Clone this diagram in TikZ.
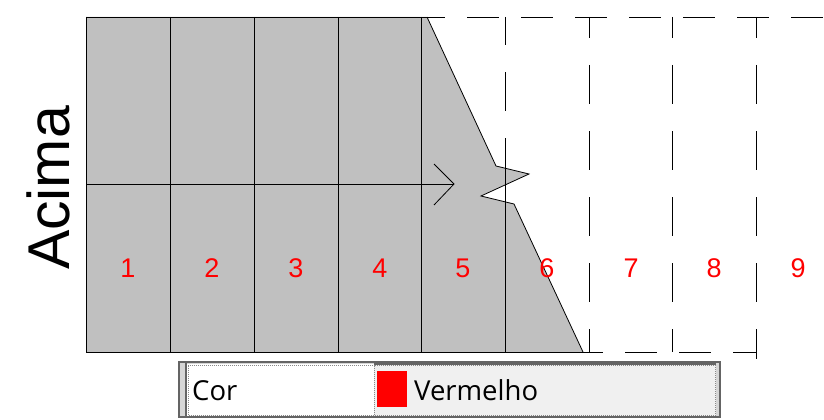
\documentclass[tikz,border=0pt]{standalone}
\usepackage{fontspec}
\setmainfont{Liberation Sans}
\newfontfamily\uifont{Open Sans}
\definecolor{cellgray}{HTML}{C0C0C0}
\definecolor{frame}{HTML}{646464}
\definecolor{strip}{HTML}{D6D6D6}
\definecolor{dotgray}{HTML}{8A8A8A}
\definecolor{btngray}{HTML}{F0F0F0}
\begin{document}
\begin{tikzpicture}[x=1pt,y=-1pt,
  grid/.style={draw=black,line width=0.9pt},
  dashv/.style={draw=black,line width=0.9pt,dash pattern=on 39pt off 27pt},
  dashh/.style={draw=black,line width=0.9pt,dash pattern=on 32pt off 22pt},
  num/.style={text=red,font=\fontsize{27}{30}\selectfont,anchor=base,inner sep=0pt},
  uitext/.style={font=\uifont\fontsize{27.5}{30}\selectfont,anchor=base west,inner sep=0pt,text=black},
  dotcell/.style={draw=dotgray,line width=0.9pt,dash pattern=on 1pt off 1pt}]
\useasboundingbox (0,0) rectangle (824,420);
% gray shape
\fill[cellgray] (86,17) -- (427,17) -- (496,166) -- (529,174) -- (481,196) -- (514,204) -- (583,352) -- (86,352) -- cycle;
\draw[line width=0.8pt] (427,17) -- (496,166) -- (529,174) -- (481,196) -- (514,204) -- (583,352);
% solid grid
\draw[grid] (86,17) -- (421,17);
\draw[grid] (86,17) -- (86,352);
\foreach \x in {170,254,338,421} \draw[grid] (\x,17) -- (\x,352);
\draw[grid] (86,352) -- (589,352);
\draw[grid] (86,184) -- (454,184);
\draw[line width=0.8pt] (434,164) -- (454,184) -- (434,205);
% dashed parts
\draw[dashh,dash phase=8pt] (421,17) -- (824,17);
\draw[dashv,dash phase=11pt] (505,17) -- (505,139);
\draw[grid] (505,139) -- (505,352);
\foreach \x in {589,672} \draw[dashv,dash phase=18pt] (\x,17) -- (\x,352);
\draw[dashv,dash phase=18pt] (756,17) -- (756,359);
\draw[dashh,dash phase=18pt] (589,352) -- (756,352);
% numbers
\foreach \n/\x in {1/128,2/212,3/296,4/380,5/463,6/547,7/631,8/714,9/798}
  \node[num] (n\n) at (\x,277.5) {\n};
% side label
\node[rotate=90,anchor=base,inner sep=0pt,font=\fontsize{59}{64}\selectfont] (acima) at (69,188) {Acima};
% property widget
\draw[fill=strip,draw=frame,line width=2pt] (179,362) rectangle (720,417);
\fill[white] (187,364) rectangle (374,416);
\fill[btngray] (374,364) rectangle (716,416);
\draw[frame,line width=1.2pt] (186,363) -- (186,416);
\draw[dotcell] (188,365.5) rectangle (374,415);
\draw[dotcell] (374.5,365.5) rectangle (715.5,415);
\draw[frame,line width=2pt] (374,363.5) -- (716,363.5);
\fill[red] (377,371) rectangle (407,407);
\node[uitext] (cor) at (192,400) {Cor};
\node[uitext] (val) at (414,400) {Vermelho};
\end{tikzpicture}
\end{document}
